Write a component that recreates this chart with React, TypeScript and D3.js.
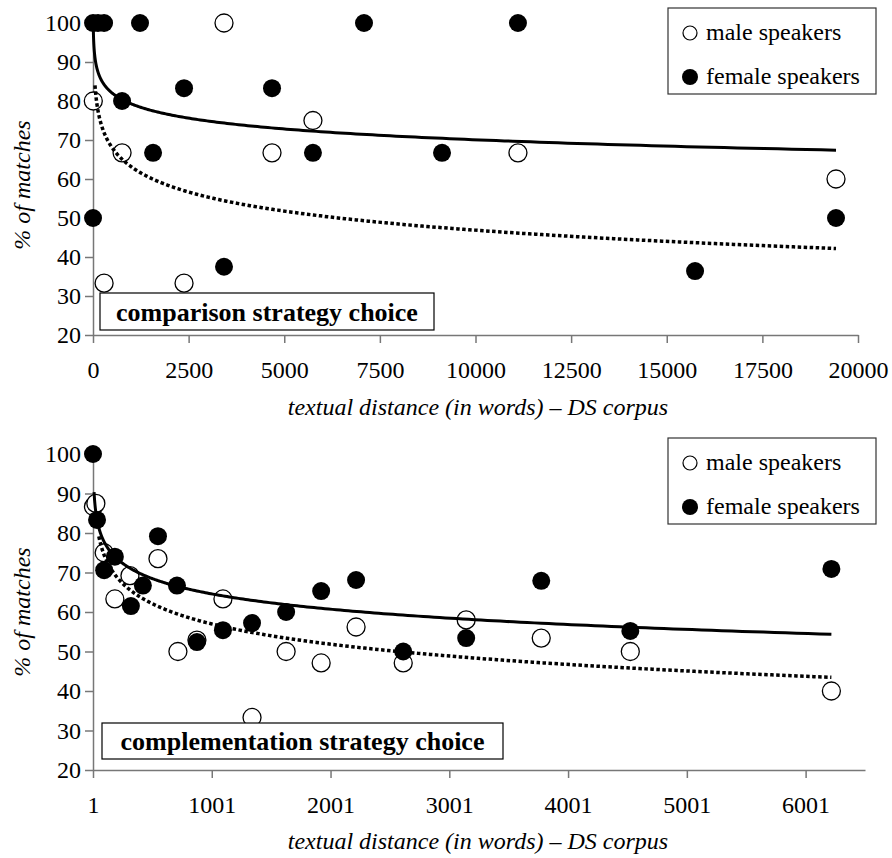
import { useEffect, useRef } from 'react';
import * as d3 from 'd3';

// comparison strategy choice (top panel): [distance, % of matches]
const compMale = [
  [8, 80], [290, 33.3], [760, 66.7], [2380, 33.3], [3425, 100], [4680, 66.7],
  [5750, 75], [11110, 66.7], [19425, 60],
];
const compFemale = [
  [1, 100], [130, 100], [290, 100], [1, 50], [760, 80], [1229, 100], [1570, 66.7],
  [2380, 83.3], [3425, 37.5], [4680, 83.3], [5750, 66.7], [7085, 100], [9125, 66.7],
  [11110, 100], [15740, 36.4], [19425, 50],
];

// complementation strategy choice (bottom panel)
const complMale = [
  [5, 86.7], [25, 87.5], [95, 75], [185, 63.3], [312, 69.2], [548, 73.5], [716, 50],
  [876, 52.9], [1095, 63.3], [1340, 33.3], [1627, 50], [1922, 47.1], [2216, 56.2],
  [2613, 47.1], [3143, 58], [3775, 53.4], [4525, 50], [6218, 40],
];
const complFemale = [
  [1, 100], [35, 83.3], [95, 70.6], [185, 74], [320, 61.5], [421, 66.7], [548, 79.2],
  [708, 66.7], [876, 52.4], [1095, 55.4], [1340, 57.2], [1627, 60], [1922, 65.3],
  [2216, 68.1], [2613, 50], [3143, 53.4], [3775, 67.9], [4525, 55.2], [6218, 70.9],
];

// logarithmic trendlines: y = a * ln(x) + b
const compMaleTrend = { a: -7.06, b: 111.9, from: 52, to: 19425 };
const compFemaleTrend = { a: -4.0, b: 106.9, from: 5.6, to: 19425 };
const complMaleTrend = { a: -7.4, b: 108.1, from: 50, to: 6218 };
const complFemaleTrend = { a: -5.59, b: 103.2, from: 10, to: 6218 };

const compTicks = [0, 2500, 5000, 7500, 10000, 12500, 15000, 17500, 20000];
const complTicks = [1, 1001, 2001, 3001, 4001, 5001, 6001];
const yTicks = [20, 30, 40, 50, 60, 70, 80, 90, 100];

const legendLabels = ['male speakers', 'female speakers'];

const FONT = 'Liberation Serif, Tinos, Times New Roman, DejaVu Serif, serif';

const panels = [
  {
    top: 23, bottom: 335, xDomain: [0, 20000], xRange: [93, 858], ticks: compTicks,
    male: compMale, female: compFemale, maleTrend: compMaleTrend, femaleTrend: compFemaleTrend,
    title: 'comparison strategy choice', box: { x: 100, y: 293, w: 334, h: 37 },
    legendY: 8, yTitleY: 185, xTitleY: 415,
  },
  {
    top: 454, bottom: 770, xDomain: [1, 6501], xRange: [93, 865], ticks: complTicks,
    male: complMale, female: complFemale, maleTrend: complMaleTrend, femaleTrend: complFemaleTrend,
    title: 'complementation strategy choice', box: { x: 102, y: 723, w: 401, h: 36 },
    legendY: 438, yTitleY: 612, xTitleY: 849,
  },
];

const App = () => {
  const svgRef = useRef(null);

  useEffect(() => {
    const svg = d3.select(svgRef.current);
    svg.selectAll('*').remove();

    panels.forEach(p => {
      const g = svg.append('g').attr('font-family', FONT);
      const x = d3.scaleLinear().domain(p.xDomain).range(p.xRange);
      const y = d3.scaleLinear().domain([20, 100]).range([p.bottom, p.top]);

      // y axis
      const yAxis = g.append('g')
        .attr('transform', `translate(${p.xRange[0]},0)`)
        .call(d3.axisLeft(y).tickValues(yTicks).tickSize(8).tickPadding(4).tickSizeOuter(0))
        .attr('font-family', FONT)
        .attr('font-size', 24);
      yAxis.select('.domain').attr('stroke', '#777').attr('stroke-width', 1.5);
      yAxis.selectAll('line').attr('stroke', '#777').attr('stroke-width', 1.5);
      yAxis.selectAll('text').attr('fill', '#000');

      // x axis
      const xAxis = g.append('g')
        .attr('transform', `translate(0,${p.bottom})`)
        .call(d3.axisBottom(x).tickValues(p.ticks).tickFormat(d3.format('d')).tickSize(8).tickPadding(18).tickSizeOuter(0))
        .attr('font-family', FONT)
        .attr('font-size', 24);
      xAxis.select('.domain').attr('stroke', '#777').attr('stroke-width', 1.5);
      xAxis.selectAll('line').attr('stroke', '#777').attr('stroke-width', 1.5);
      xAxis.selectAll('text').attr('fill', '#000');

      // points: male first, female on top
      g.selectAll('.male')
        .data(p.male)
        .enter()
        .append('circle')
        .attr('cx', d => x(d[0]))
        .attr('cy', d => y(d[1]))
        .attr('r', 9)
        .attr('fill', '#fff')
        .attr('stroke', '#000')
        .attr('stroke-width', 1.3);

      g.selectAll('.female')
        .data(p.female)
        .enter()
        .append('circle')
        .attr('cx', d => x(d[0]))
        .attr('cy', d => y(d[1]))
        .attr('r', 9)
        .attr('fill', '#000');

      // trendlines
      const trendPts = t => d3.range(0, 401).map(i => {
        const v = Math.exp(Math.log(t.from) + (Math.log(t.to) - Math.log(t.from)) * i / 400);
        return [v, t.a * Math.log(v) + t.b];
      });
      const line = d3.line().x(d => x(d[0])).y(d => y(d[1]));

      g.append('path')
        .attr('d', line(trendPts(p.maleTrend)))
        .attr('fill', 'none')
        .attr('stroke', '#000')
        .attr('stroke-width', 3.5)
        .attr('stroke-dasharray', '3.5 2.5');

      g.append('path')
        .attr('d', line(trendPts(p.femaleTrend)))
        .attr('fill', 'none')
        .attr('stroke', '#000')
        .attr('stroke-width', 3);

      // panel label box
      g.append('rect')
        .attr('x', p.box.x).attr('y', p.box.y)
        .attr('width', p.box.w).attr('height', p.box.h)
        .attr('fill', '#fff').attr('stroke', '#000').attr('stroke-width', 1.2);
      g.append('text')
        .attr('x', p.box.x + p.box.w / 2)
        .attr('y', p.box.y + p.box.h - 9)
        .attr('text-anchor', 'middle')
        .attr('font-size', 26)
        .attr('font-weight', 'bold')
        .text(p.title);

      // legend
      const lg = g.append('g').attr('transform', `translate(668,${p.legendY})`);
      lg.append('rect')
        .attr('width', 208).attr('height', 86)
        .attr('fill', '#fff').attr('stroke', '#333').attr('stroke-width', 1.2);
      legendLabels.forEach((label, i) => {
        const cy = 25 + i * 44;
        lg.append('circle')
          .attr('cx', 22).attr('cy', cy)
          .attr('r', i === 0 ? 7 : 8)
          .attr('fill', i === 0 ? '#fff' : '#000')
          .attr('stroke', '#000')
          .attr('stroke-width', i === 0 ? 1.2 : 0);
        lg.append('text')
          .attr('x', 38).attr('y', cy + 7)
          .attr('font-size', 24)
          .text(label);
      });

      // axis titles
      g.append('text')
        .attr('transform', `translate(30,${p.yTitleY}) rotate(-90)`)
        .attr('text-anchor', 'middle')
        .attr('font-size', 24)
        .attr('font-style', 'italic')
        .text('% of matches');

      g.append('text')
        .attr('x', 478)
        .attr('y', p.xTitleY)
        .attr('text-anchor', 'middle')
        .attr('font-size', 24)
        .attr('font-style', 'italic')
        .text('textual distance (in words) – DS corpus');
    });
  }, []);

  return (
    <svg
      ref={svgRef}
      width={892}
      height={858}
      style={{ position: 'absolute', left: 0, top: 0, background: '#fff' }}
    />
  );
};

export default App;
